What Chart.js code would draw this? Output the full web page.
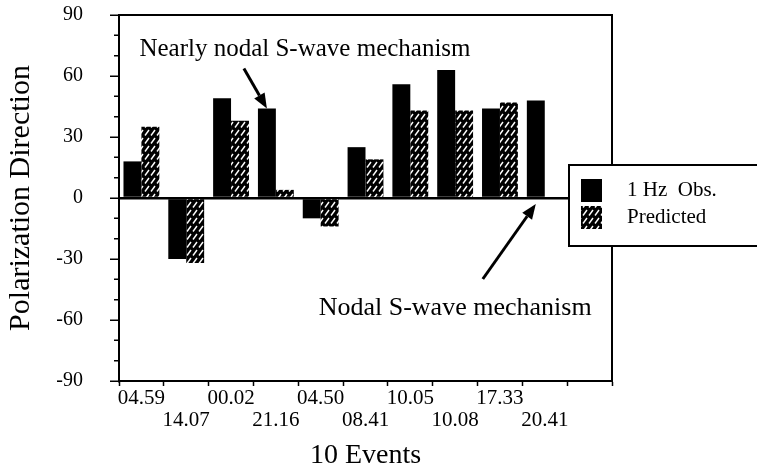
<!DOCTYPE html>
<html>
<head>
<meta charset="utf-8">
<script src="https://cdn.jsdelivr.net/npm/chart.js@4/dist/chart.umd.min.js"></script>
<style>
  html, body { margin: 0; padding: 0; background: #fff; }
  canvas { display: block; }
</style>
</head>
<body>
<canvas id="chart" width="757" height="472"></canvas>
<script>
// data (degrees); last slot is the empty category on the right
var events    = ['04.59', '14.07', '00.02', '21.16', '04.50', '08.41', '10.05', '10.08', '17.33', '20.41', ''];
var observed  = [18, -30, 49, 44, -10, 25, 56, 63, 44, 48, null];
var predicted = [35, -32, 38, 4, -14, 19, 43, 43, 47, null, null];
var yMin = -90, yMax = 90, yStep = 30, yMinorStep = 10;
var seriesNames = ['1 Hz  Obs.', 'Predicted'];
var notes = [
    {text: 'Nearly nodal S-wave mechanism', size: 25, at: 0, value: 73, bar: 3, dx: -23, dy: -40},
    {text: 'Nodal S-wave mechanism', size: 26, at: 4, value: -54, bar: 9, dx: -53, dy: 75}
];

var serif = '"Liberation Serif", "Times New Roman", serif';

function hatch() {
    var c = document.createElement('canvas');
    c.width = 6;
    c.height = 8;
    var g = c.getContext('2d');
    g.fillStyle = '#000';
    g.fillRect(0, 0, 6, 8);
    g.strokeStyle = '#fff';
    g.lineWidth = 1.4;
    g.beginPath();
    g.moveTo(1, 7.5);
    g.lineTo(5, 2);
    g.stroke();
    return g.createPattern(c, 'repeat');
}

function arrow(ctx, x0, y0, x1, y1) {
    var a = Math.atan2(y1 - y0, x1 - x0);
    var len = 15, half = 6;
    var bx = x1 - len * Math.cos(a), by = y1 - len * Math.sin(a);
    ctx.save();
    ctx.strokeStyle = '#000';
    ctx.fillStyle = '#000';
    ctx.lineWidth = 3;
    ctx.beginPath();
    ctx.moveTo(x0, y0);
    ctx.lineTo(bx, by);
    ctx.stroke();
    ctx.beginPath();
    ctx.moveTo(x1, y1);
    ctx.lineTo(bx + half * Math.sin(a), by - half * Math.cos(a));
    ctx.lineTo(bx - half * Math.sin(a), by + half * Math.cos(a));
    ctx.closePath();
    ctx.fill();
    ctx.restore();
}

var pattern = hatch();

var decor = {
    id: 'decor',
    afterDraw: function(chart) {
        var ctx = chart.ctx, area = chart.chartArea;
        var x = chart.scales.x, y = chart.scales.y;

        // frame
        ctx.save();
        ctx.strokeStyle = '#000';
        ctx.lineWidth = 2;
        ctx.strokeRect(area.left, area.top, area.right - area.left, area.bottom - area.top);

        // minor ticks on the y axis
        ctx.lineWidth = 1.5;
        ctx.beginPath();
        for (var v = yMin; v <= yMax; v += yMinorStep) {
            if (v % yStep === 0) continue;
            var py = y.getPixelForValue(v);
            ctx.moveTo(area.left - 5, py);
            ctx.lineTo(area.left, py);
        }
        ctx.stroke();
        ctx.restore();

        // annotations
        notes.forEach(function(n) {
            var bar = chart.getDatasetMeta(0).data[n.bar];
            ctx.save();
            ctx.fillStyle = '#000';
            ctx.font = n.size + 'px ' + serif;
            ctx.textAlign = 'left';
            ctx.textBaseline = 'middle';
            ctx.fillText(n.text, x.getPixelForValue(n.at) - 2, y.getPixelForValue(n.value));
            ctx.restore();
            var tipY = n.dy < 0 ? bar.y : y.getPixelForValue(0) + 6;
            arrow(ctx, bar.x + n.dx, tipY + n.dy, bar.x, tipY);
        });

        // legend box
        var lx = area.right - 43, ly = 165;
        ctx.save();
        ctx.fillStyle = '#fff';
        ctx.fillRect(lx, ly, 200, 81);
        ctx.strokeStyle = '#000';
        ctx.lineWidth = 2;
        ctx.strokeRect(lx, ly, 200, 81);
        ctx.font = '21px ' + serif;
        ctx.textBaseline = 'middle';
        chart.data.datasets.forEach(function(ds, i) {
            var sy = ly + 14 + i * 27;
            ctx.fillStyle = ds.backgroundColor;
            ctx.fillRect(lx + 12, sy, 21, 23);
            ctx.fillStyle = '#000';
            ctx.fillText(ds.label, lx + 58, sy + 11);
        });
        ctx.restore();
    }
};

new Chart(document.getElementById('chart'), {
    type: 'bar',
    data: {
        labels: events.map(function(e, i) { return i % 2 ? ['', e] : [e]; }),
        datasets: [
            {label: seriesNames[0], data: observed, backgroundColor: '#000', borderWidth: 0},
            {label: seriesNames[1], data: predicted, backgroundColor: pattern, borderColor: '#000', borderWidth: 0}
        ]
    },
    options: {
        responsive: false,
        devicePixelRatio: 1,
        animation: false,
        datasets: {bar: {categoryPercentage: 0.8, barPercentage: 1.0}},
        layout: {padding: {top: 15, right: 145, left: 0, bottom: 0}},
        plugins: {legend: {display: false}, tooltip: {enabled: false}},
        scales: {
            x: {
                afterFit: function(s) {
                    s.height = 91;
                    s.paddingLeft = 0;
                    s.paddingRight = 0;
                },
                grid: {offset: true, drawOnChartArea: false, tickLength: 5, tickColor: '#000', tickWidth: 1.5},
                border: {color: '#000', width: 2},
                ticks: {color: '#000', padding: 1, maxRotation: 0, autoSkip: false,
                        font: {family: serif, size: 21, lineHeight: 1.05}},
                title: {display: true, text: '10 Events', color: '#000', padding: 0,
                        font: {family: serif, size: 28, lineHeight: 1.2}}
            },
            y: {
                min: yMin,
                max: yMax,
                afterFit: function(s) {
                    s.width = 119;
                    s.paddingTop = 0;
                    s.paddingBottom = 0;
                },
                grid: {
                    tickLength: 9,
                    tickColor: '#000',
                    tickWidth: 1.5,
                    lineWidth: 2.5,
                    color: function(c) { return c.tick && c.tick.value === 0 ? '#000' : 'rgba(0,0,0,0)'; }
                },
                border: {color: '#000', width: 2},
                ticks: {stepSize: yStep, color: '#000', padding: 27,
                        font: {family: serif, size: 20}},
                title: {display: true, text: 'Polarization Direction', color: '#000', padding: {top: 3},
                        font: {family: serif, size: 30, lineHeight: 1.2}}
            }
        }
    },
    plugins: [decor]
});
</script>
</body>
</html>
